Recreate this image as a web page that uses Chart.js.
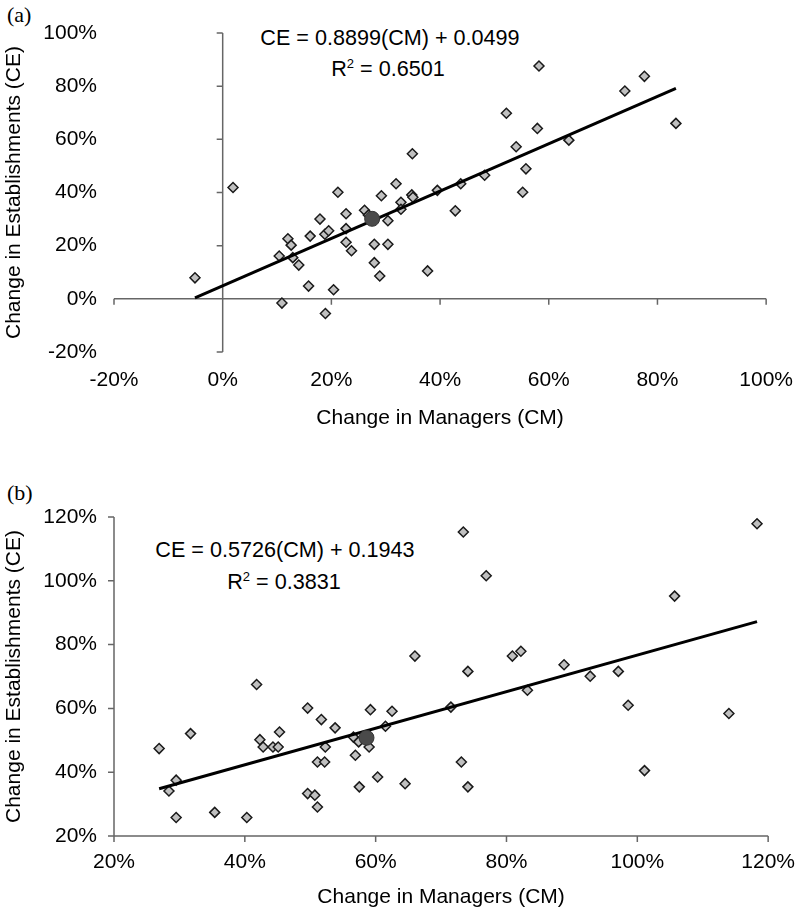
<!DOCTYPE html>
<html>
<head>
<meta charset="utf-8">
<script src="https://cdn.jsdelivr.net/npm/chart.js@4.4.1/dist/chart.umd.min.js"></script>
<style>
body { margin: 0; background: #fff; width: 809px; height: 919px; position: relative; overflow: hidden;
       font-family: "Liberation Sans", Arial, sans-serif; }
canvas { position: absolute; left: 0; }
.tag { position: absolute; left: 7px; font-family: "Liberation Serif", "Times New Roman", serif; font-size: 22px; line-height: 1; }
.eq { position: absolute; font-size: 21.6px; line-height: 1; white-space: nowrap; transform: translate(-50%, -50%); }
.eq sup { font-size: 13px; vertical-align: 8px; line-height: 0; }
</style>
</head>
<body>
<div class="tag" style="top:4px">(a)</div>
<div class="tag" style="top:482px">(b)</div>
<div class="eq" style="left:390px; top:38px">CE = 0.8899(CM) + 0.0499</div>
<div class="eq" style="left:388px; top:69px">R<sup>2</sup> = 0.6501</div>
<div class="eq" style="left:285px; top:550px">CE = 0.5726(CM) + 0.1943</div>
<div class="eq" style="left:284px; top:582px">R<sup>2</sup> = 0.3831</div>

<canvas id="chartA" width="809" height="440" style="top:0"></canvas>
<canvas id="chartB" width="809" height="449" style="top:470px"></canvas>

<script>
// (a) change in managers vs change in establishments, in %
var cmA = [-5.1, 1.9, 10.9, 10.4, 12.0, 12.6, 12.9, 14.0, 15.8, 16.1, 17.9, 18.9, 18.8, 19.5, 20.4,
           21.2, 22.7, 22.7, 22.7, 23.7, 26.1, 26.8, 27.9, 27.9, 28.9, 29.2, 30.4, 30.4, 31.9, 32.8,
           32.8, 34.8, 35.0, 34.9, 37.7, 39.5, 42.8, 43.8, 48.2, 52.2, 54.0, 55.8, 55.2, 57.9, 58.2,
           63.7, 74.0, 77.6, 83.4];
var ceA = [7.9, 41.9, -1.6, 16.1, 22.6, 20.2, 15.5, 12.7, 4.8, 23.6, 30.0, -5.5, 24.3, 25.6, 3.4,
           40.1, 32.0, 26.4, 21.3, 18.1, 33.3, 31.5, 20.5, 13.6, 8.6, 38.8, 29.4, 20.5, 43.3, 36.3,
           33.7, 39.1, 38.2, 54.6, 10.5, 40.8, 33.1, 43.3, 46.5, 69.8, 57.2, 48.9, 40.1, 64.1, 87.6,
           59.7, 78.2, 83.7, 66.0];
var meanA = [27.5, 30.1];
var trendCmA = [-5.1, 83.4];
var trendCeA = [0.4, 79.2];

// (b)
var cmB = [26.9, 28.4, 29.5, 31.7, 29.5, 35.4, 40.3, 41.8, 42.3, 42.8, 44.3, 45.1, 45.3, 49.6,
           51.7, 53.8, 52.3, 51.1, 52.2, 49.6, 50.7, 51.1, 56.6, 57.4, 56.9, 59.0, 59.2, 57.5, 60.3,
           61.5, 62.5, 64.5, 66.0, 73.4, 76.9, 71.5, 74.1, 73.1, 74.1, 80.9, 82.2, 83.2, 88.8, 92.8,
           97.1, 98.6, 101.1, 105.7, 114.0, 118.3];
var ceB = [47.4, 34.1, 37.5, 52.1, 25.8, 27.4, 25.8, 67.5, 50.2, 47.9, 47.9, 47.9, 52.6, 60.1,
           56.5, 53.9, 47.9, 43.2, 43.2, 33.3, 32.8, 29.1, 51.0, 49.5, 45.3, 47.9, 59.6, 35.4, 38.5,
           54.4, 59.1, 36.4, 76.4, 115.3, 101.6, 60.4, 71.6, 43.2, 35.4, 76.4, 77.9, 65.7, 73.7, 70.1,
           71.6, 61.0, 40.5, 95.2, 58.4, 117.9];
var meanB = [58.6, 50.8];
var trendCmB = [26.9, 118.3];
var trendCeB = [34.8, 87.2];

var axisTitleX = "Change in Managers (CM)";
var axisTitleY = "Change in Establishments (CE)";

Chart.defaults.font.family = "'Liberation Sans', Arial, sans-serif";
Chart.defaults.font.size = 21;
Chart.defaults.color = "#000";

function toPoints(xs, ys) {
    return xs.map(function(x, i) { return { x: x, y: ys[i] }; });
}

// axis lines that cross at (x0, y0), ticks pointing outward
var crossAxes = {
    id: "crossAxes",
    beforeDatasetsDraw: function(chart, args, opts) {
        var ctx = chart.ctx;
        var x = chart.scales.x, y = chart.scales.y;
        var px0 = x.getPixelForValue(opts.x0);
        var py0 = y.getPixelForValue(opts.y0);
        ctx.save();
        ctx.strokeStyle = "#666";
        ctx.lineWidth = 1.5;
        ctx.beginPath();
        ctx.moveTo(x.left, py0); ctx.lineTo(x.right, py0);
        ctx.moveTo(px0, y.top); ctx.lineTo(px0, y.bottom);
        x.ticks.forEach(function(t) {
            var p = x.getPixelForValue(t.value);
            ctx.moveTo(p, py0); ctx.lineTo(p, py0 + 6);
        });
        y.ticks.forEach(function(t) {
            var p = y.getPixelForValue(t.value);
            ctx.moveTo(px0, p); ctx.lineTo(px0 - 6, p);
        });
        ctx.stroke();
        ctx.restore();
    }
};

function makeChart(id, cfg) {
    var h = document.getElementById(id).height;
    return new Chart(document.getElementById(id), {
        type: "scatter",
        data: {
            datasets: [{
                data: [{ x: cfg.mean[0], y: cfg.mean[1] }],
                pointStyle: "circle",
                pointRadius: 7.5,
                backgroundColor: "#4a4a4a",
                borderColor: "#333",
                borderWidth: 1
            }, {
                data: toPoints(cfg.trendX, cfg.trendY),
                showLine: true,
                borderColor: "#000",
                borderWidth: 3,
                pointRadius: 0
            }, {
                data: toPoints(cfg.xs, cfg.ys),
                pointStyle: "rectRot",
                pointRadius: 5,
                backgroundColor: "#c0c0c0",
                borderColor: "#1a1a1a",
                borderWidth: 1.5
            }]
        },
        options: {
            responsive: false,
            animation: false,
            events: [],
            layout: { padding: { top: cfg.top, right: 31, left: 0, bottom: 0 } },
            plugins: {
                legend: { display: false },
                tooltip: { enabled: false },
                crossAxes: { x0: cfg.x0, y0: cfg.y0 }
            },
            scales: {
                x: {
                    type: "linear",
                    min: cfg.xMin, max: cfg.xMax,
                    border: { display: false },
                    grid: { display: false, drawTicks: false },
                    ticks: { stepSize: 20, padding: cfg.xPad, callback: function(v) { return v + "%"; } },
                    title: { display: true, text: axisTitleX, padding: { top: 0, bottom: 9 } },
                    afterFit: function(s) { s.height = h - cfg.bottom; }
                },
                y: {
                    type: "linear",
                    min: cfg.yMin, max: cfg.yMax,
                    border: { display: false },
                    grid: { display: false, drawTicks: false },
                    ticks: { stepSize: 20, padding: 17, callback: function(v) { return v + "%"; } },
                    title: { display: true, text: axisTitleY, padding: { top: 2, bottom: 0 } },
                    afterFit: function(s) { s.width = 114; }
                }
            }
        },
        plugins: [crossAxes]
    });
}

makeChart("chartA", {
    xs: cmA, ys: ceA, mean: meanA, trendX: trendCmA, trendY: trendCeA,
    xMin: -20, xMax: 100, yMin: -20, yMax: 100, x0: 0, y0: 0,
    top: 33, bottom: 352, xPad: 16
});

makeChart("chartB", {
    xs: cmB, ys: ceB, mean: meanB, trendX: trendCmB, trendY: trendCeB,
    xMin: 20, xMax: 120, yMin: 20, yMax: 120, x0: 20, y0: 20,
    top: 47, bottom: 366, xPad: 14
});
</script>
</body>
</html>
